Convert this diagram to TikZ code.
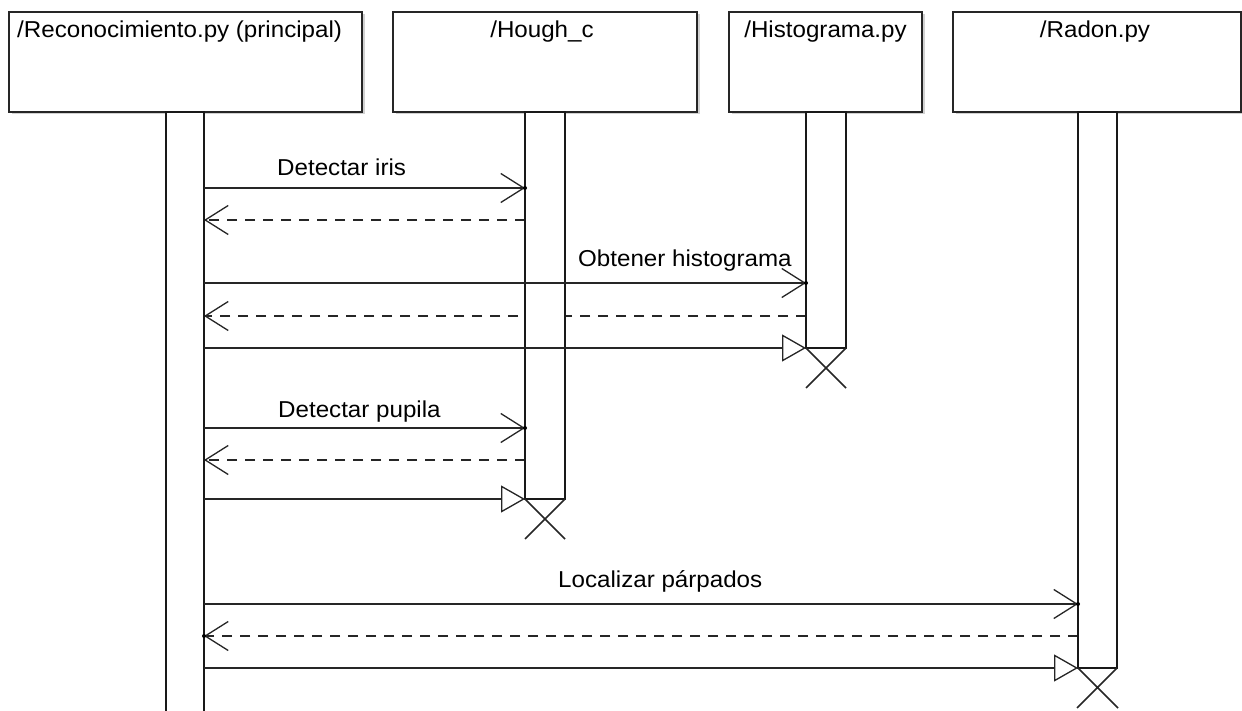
\documentclass[tikz,border=0pt]{standalone}
\usepackage{fontspec}
\setmainfont{Liberation Sans}[FakeStretch=1.05]
\usetikzlibrary{arrows.meta}
\begin{document}
\begin{tikzpicture}[x=1pt,y=-1pt,
  lifebox/.style={draw=black!85, line width=1.8pt, fill=white, anchor=north west, inner sep=0pt, outer sep=0pt},
  shadow/.style={fill=black!18, draw=none},
  bar/.style={draw=black!90, line width=1.6pt, fill=white, anchor=north west, inner sep=0pt, outer sep=0pt},
  call/.style={draw=black!85, line width=1.5pt, -{Straight Barb[length=23pt,width=29pt,line width=1.3pt]}},
  reply/.style={draw=black!85, line width=1.5pt, dash pattern=on 10pt off 8pt, -{Straight Barb[length=23pt,width=29pt,line width=1.3pt]}},
  destroy/.style={draw=black!85, line width=1.5pt, -{Triangle[open,length=24pt,width=27pt,line width=1.3pt]}},
  lbl/.style={font=\fontsize{23}{27}\selectfont, inner sep=0pt, anchor=base west, text=black},
  xmark/.style={draw=black!85, line width=1.5pt}]
\useasboundingbox (0,0) rectangle (1242,711);
\fill[white] (0,0) rectangle (1242,711);

% lifeline boxes (with soft shadow)
\fill[shadow] (11.5,14.5) rectangle (364.5,114.5);
\fill[shadow] (395.5,14.5) rectangle (699.5,114.5);
\fill[shadow] (731.5,14.5) rectangle (924.5,114.5);
\fill[shadow] (955.5,14.5) rectangle (1244,114.5);
\node[lifebox, minimum width=353pt, minimum height=100pt] (b1) at (9,12) {};
\node[lifebox, minimum width=304pt, minimum height=100pt] (b2) at (393,12) {};
\node[lifebox, minimum width=193pt, minimum height=100pt] (b3) at (729,12) {};
\node[lifebox, minimum width=288pt, minimum height=100pt] (b4) at (953,12) {};
\node[lbl] (t1) at (17,38) {/Reconocimiento.py (principal)};
\node[lbl, anchor=base] (t2) at (542,38) {/Hough\_c};
\node[lbl, anchor=base] (t3) at (825.5,38) {/Histograma.py};
\node[lbl, anchor=base] (t4) at (1095,38) {/Radon.py};

% endpoints
\coordinate (r1a) at (525,220); \coordinate (r1b) at (204,220);
\coordinate (r2a) at (806,316); \coordinate (r2b) at (204,316);
\coordinate (r3a) at (525,460); \coordinate (r3b) at (204,460);
\coordinate (r4a) at (1078,636); \coordinate (r4b) at (204,636);

% replies (drawn under the activation bars)
\draw[reply] (r1a) -- (r1b);
\draw[reply] (r2a) -- (r2b);
\draw[reply] (r3a) -- (r3b);
\draw[reply] (r4a) -- (r4b);

% activation bars
\node[bar, minimum width=38pt, minimum height=620pt] (a1) at (166,112) {};
\node[bar, minimum width=40pt, minimum height=387pt] (a2) at (525,112) {};
\node[bar, minimum width=40pt, minimum height=236pt] (a3) at (806,112) {};
\node[bar, minimum width=39pt, minimum height=556pt] (a4) at (1078,112) {};

% calls
\coordinate (m1a) at (204,188); \coordinate (m1b) at (525,188);
\coordinate (m2a) at (204,283); \coordinate (m2b) at (806,283);
\coordinate (d2a) at (204,348); \coordinate (d2b) at (a3.south west);
\coordinate (m3a) at (204,428); \coordinate (m3b) at (525,428);
\coordinate (d3a) at (204,499); \coordinate (d3b) at (a2.south west);
\coordinate (m4a) at (204,604); \coordinate (m4b) at (1078,604);
\coordinate (d4a) at (204,668); \coordinate (d4b) at (a4.south west);

\draw[call] (m1a) -- (m1b);
\draw[call] (m2a) -- (m2b);
\draw[destroy] (d2a) -- (d2b);
\draw[call] (m3a) -- (m3b);
\draw[destroy] (d3a) -- (d3b);
\draw[call] (m4a) -- (m4b);
\draw[destroy] (d4a) -- (d4b);

\fill[black] (m1b) circle (2pt);
\fill[black] (m2b) circle (2pt);
\fill[black] (m3b) circle (2pt);
\fill[black] (m4b) circle (2pt);
\fill[black] (r4b) circle (2pt);

\node[lbl] (l1) at (277,176) {Detectar iris};
\node[lbl] (l2) at (578,267) {Obtener histograma};
\node[lbl] (l3) at (278,417) {Detectar pupila};
\node[lbl] (l4) at (558,587) {Localizar párpados};

% destruction marks
\draw[xmark] (a3.south west) -- ++(40,40) (a3.south east) -- ++(-40,40);
\draw[xmark] (a2.south west) -- ++(40,40) (a2.south east) -- ++(-40,40);
\draw[xmark] (a4.south west) -- ++(40,40) (a4.south east) -- ++(-40,40);
\end{tikzpicture}
\end{document}
